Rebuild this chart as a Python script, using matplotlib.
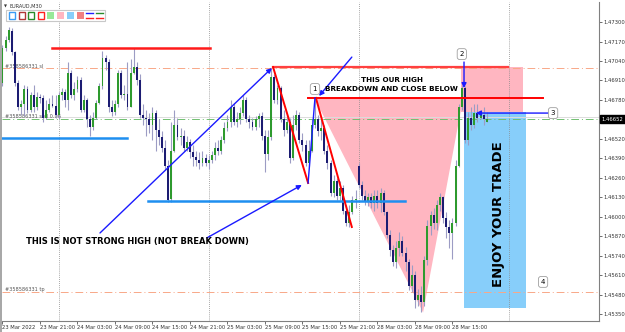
import matplotlib
matplotlib.use('Agg')
import matplotlib.pyplot as plt
from matplotlib.patches import Rectangle, Polygon
import matplotlib.transforms as mtransforms

# EURAUD M30 candles (index 0 = 23 Mar 2022 15:00)
opens = [
    1.4689, 1.4713, 1.4718, 1.4724, 1.4710, 1.4689, 1.4673, 1.4675, 1.4685, 1.4671,
    1.4681, 1.4673, 1.4680, 1.4679, 1.4666, 1.4671, 1.4675, 1.4674, 1.4668, 1.4681,
    1.4683, 1.4678, 1.4696, 1.4681, 1.4685, 1.4691, 1.4671, 1.4678, 1.4665, 1.4660,
    1.4666, 1.4676, 1.4687, 1.4706, 1.4703, 1.4673, 1.4670, 1.4675, 1.4696, 1.4681,
    1.4682, 1.4673, 1.4696, 1.4700, 1.4691, 1.4668, 1.4666, 1.4665, 1.4661, 1.4669,
    1.4658, 1.4653, 1.4646, 1.4634, 1.4612, 1.4644, 1.4661, 1.4653, 1.4654, 1.4646,
    1.4650, 1.4643, 1.4640, 1.4638, 1.4636, 1.4639, 1.4636, 1.4638, 1.4641, 1.4646,
    1.4644, 1.4651, 1.4659, 1.4663, 1.4673, 1.4663, 1.4665, 1.4669, 1.4678, 1.4665,
    1.4663, 1.4660, 1.4665, 1.4667, 1.4654, 1.4642, 1.4653, 1.4693, 1.4678, 1.4686,
    1.4665, 1.4658, 1.4663, 1.4639, 1.4661, 1.4668, 1.4651, 1.4648, 1.4636, 1.4644,
    1.4661, 1.4665, 1.4657, 1.4659, 1.4644, 1.4636, 1.4616, 1.4624, 1.4614, 1.4619,
    1.4604, 1.4596, 1.4603, 1.4611, 1.4634, 1.4621, 1.4614, 1.4610, 1.4613, 1.4609,
    1.4614, 1.4609, 1.4616, 1.4603, 1.4588, 1.4578, 1.4570, 1.4579, 1.4584, 1.4576,
    1.4570, 1.4554, 1.4561, 1.4544, 1.4548, 1.4543, 1.4571, 1.4594, 1.4601, 1.4596,
    1.4608, 1.4613, 1.4599, 1.4593, 1.4589, 1.4596, 1.4634, 1.4673, 1.4686, 1.4651,
    1.4666, 1.4661, 1.4669, 1.4666, 1.4668, 1.4663]
highs = [
    1.4715, 1.4721, 1.4727, 1.4726, 1.4711, 1.4691, 1.4678, 1.4688, 1.4687, 1.4683,
    1.4688, 1.4683, 1.4682, 1.4681, 1.4678, 1.4679, 1.4681, 1.4681, 1.4683, 1.4686,
    1.4685, 1.4703, 1.4698, 1.4690, 1.4694, 1.4693, 1.4681, 1.4679, 1.4668, 1.4670,
    1.4678, 1.4689, 1.4711, 1.4708, 1.4705, 1.4678, 1.4678, 1.4698, 1.4698, 1.4688,
    1.4703, 1.4705, 1.4713, 1.4703, 1.4695, 1.4675, 1.4671, 1.4669, 1.4673, 1.4671,
    1.4665, 1.4657, 1.4651, 1.4638, 1.4663, 1.4671, 1.4666, 1.4659, 1.4658, 1.4654,
    1.4652, 1.4648, 1.4644, 1.4643, 1.4644, 1.4642, 1.4641, 1.4644, 1.4650, 1.4651,
    1.4654, 1.4663, 1.4668, 1.4678, 1.4676, 1.4670, 1.4673, 1.4681, 1.4680, 1.4668,
    1.4666, 1.4667, 1.4669, 1.4670, 1.4658, 1.4658, 1.4699, 1.4695, 1.4688, 1.4687,
    1.4671, 1.4668, 1.4666, 1.4668, 1.4671, 1.4670, 1.4656, 1.4651, 1.4651, 1.4665,
    1.4679, 1.4668, 1.4665, 1.4661, 1.4648, 1.4638, 1.4628, 1.4626, 1.4624, 1.4621,
    1.4608, 1.4608, 1.4614, 1.4618, 1.4636, 1.4624, 1.4618, 1.4616, 1.4616, 1.4618,
    1.4618, 1.4619, 1.4618, 1.4604, 1.4591, 1.4581, 1.4584, 1.4590, 1.4587, 1.4580,
    1.4572, 1.4568, 1.4564, 1.4552, 1.4554, 1.4574, 1.4598, 1.4604, 1.4606, 1.4611,
    1.4616, 1.4614, 1.4603, 1.4598, 1.4599, 1.4638, 1.4675, 1.4688, 1.4687, 1.4670,
    1.4673, 1.4675, 1.4675, 1.4671, 1.4673, 1.4670]
lows = [
    1.4687, 1.4711, 1.4717, 1.4708, 1.4687, 1.4671, 1.4668, 1.4667, 1.4669, 1.4670,
    1.4670, 1.4671, 1.4676, 1.4663, 1.4665, 1.4670, 1.4673, 1.4666, 1.4665, 1.4678,
    1.4673, 1.4671, 1.4679, 1.4678, 1.4683, 1.4670, 1.4670, 1.4660, 1.4654, 1.4658,
    1.4665, 1.4675, 1.4685, 1.4698, 1.4670, 1.4667, 1.4668, 1.4673, 1.4679, 1.4678,
    1.4671, 1.4673, 1.4695, 1.4688, 1.4666, 1.4661, 1.4654, 1.4656, 1.4651, 1.4644,
    1.4648, 1.4643, 1.4631, 1.4610, 1.4610, 1.4643, 1.4651, 1.4648, 1.4644, 1.4644,
    1.4639, 1.4634, 1.4634, 1.4632, 1.4634, 1.4634, 1.4632, 1.4636, 1.4638, 1.4641,
    1.4642, 1.4649, 1.4657, 1.4660, 1.4661, 1.4660, 1.4662, 1.4667, 1.4663, 1.4659,
    1.4658, 1.4658, 1.4660, 1.4651, 1.4630, 1.4638, 1.4651, 1.4676, 1.4675, 1.4663,
    1.4654, 1.4656, 1.4636, 1.4638, 1.4658, 1.4649, 1.4644, 1.4634, 1.4634, 1.4643,
    1.4659, 1.4654, 1.4651, 1.4642, 1.4632, 1.4614, 1.4613, 1.4611, 1.4611, 1.4602,
    1.4594, 1.4593, 1.4602, 1.4606, 1.4619, 1.4611, 1.4608, 1.4607, 1.4606, 1.4604,
    1.4606, 1.4603, 1.4601, 1.4586, 1.4574, 1.4567, 1.4566, 1.4574, 1.4574, 1.4564,
    1.4551, 1.4550, 1.4539, 1.4540, 1.4536, 1.4540, 1.4568, 1.4588, 1.4592, 1.4591,
    1.4604, 1.4596, 1.4586, 1.4579, 1.4572, 1.4594, 1.4633, 1.4671, 1.4649, 1.4648,
    1.4658, 1.4659, 1.4663, 1.4665, 1.4661, 1.4663]
closes = [
    1.4713, 1.4718, 1.4725, 1.4710, 1.4689, 1.4673, 1.4675, 1.4685, 1.4671, 1.4681,
    1.4673, 1.4680, 1.4679, 1.4666, 1.4671, 1.4675, 1.4674, 1.4668, 1.4681, 1.4683,
    1.4678, 1.4696, 1.4681, 1.4685, 1.4691, 1.4671, 1.4678, 1.4665, 1.4660, 1.4666,
    1.4676, 1.4687, 1.4706, 1.4703, 1.4673, 1.4670, 1.4675, 1.4696, 1.4681, 1.4682,
    1.4673, 1.4696, 1.4700, 1.4691, 1.4668, 1.4666, 1.4665, 1.4661, 1.4669, 1.4658,
    1.4653, 1.4646, 1.4634, 1.4611, 1.4644, 1.4661, 1.4653, 1.4654, 1.4646, 1.4650,
    1.4643, 1.4640, 1.4638, 1.4636, 1.4639, 1.4636, 1.4638, 1.4641, 1.4646, 1.4644,
    1.4651, 1.4659, 1.4663, 1.4673, 1.4663, 1.4665, 1.4669, 1.4678, 1.4665, 1.4663,
    1.4660, 1.4665, 1.4667, 1.4654, 1.4642, 1.4653, 1.4693, 1.4678, 1.4686, 1.4665,
    1.4658, 1.4663, 1.4639, 1.4661, 1.4668, 1.4651, 1.4648, 1.4636, 1.4644, 1.4661,
    1.4665, 1.4657, 1.4659, 1.4644, 1.4636, 1.4616, 1.4624, 1.4614, 1.4619, 1.4604,
    1.4596, 1.4603, 1.4611, 1.4612, 1.4621, 1.4614, 1.4610, 1.4613, 1.4609, 1.4614,
    1.4609, 1.4616, 1.4603, 1.4588, 1.4578, 1.4570, 1.4579, 1.4584, 1.4576, 1.4570,
    1.4554, 1.4561, 1.4544, 1.4548, 1.4543, 1.4571, 1.4594, 1.4601, 1.4596, 1.4608,
    1.4613, 1.4599, 1.4593, 1.4589, 1.4596, 1.4634, 1.4673, 1.4686, 1.4651, 1.4666,
    1.4661, 1.4669, 1.4666, 1.4668, 1.4665, 1.46652]

time_ticks = [0, 12, 24, 36, 48, 60, 72, 84, 96, 108, 120, 132, 144]
time_labels = ['23 Mar 2022', '23 Mar 21:00', '24 Mar 03:00', '24 Mar 09:00',
               '24 Mar 15:00', '24 Mar 21:00', '25 Mar 03:00', '25 Mar 09:00',
               '25 Mar 15:00', '25 Mar 21:00', '28 Mar 03:00', '28 Mar 09:00',
               '28 Mar 15:00']
day_breaks = [18, 66, 114, 162]
price_ticks = [1.4730, 1.4717, 1.4704, 1.4691, 1.4678, 1.4652, 1.4639, 1.4626,
               1.4613, 1.4600, 1.4587, 1.4574, 1.4561, 1.4548, 1.4535]
bid = 1.46652
sl_price = 1.4699
tp_price = 1.4550

fig = plt.figure(figsize=(6.25, 3.32), dpi=100)
ax = fig.add_axes([2 / 625, 11 / 332, 597 / 625, 319 / 332])
ax.set_xlim(-0.16, 190.9)
ax.set_ylim(1.45303, 1.47434)

# background objects
ax.add_patch(Polygon([(99.9, 1.4679), (147.4, 1.4679), (134.6, 1.4536)],
                     closed=True, fc='#ffb6c1', ec='none', zorder=1))
ax.add_patch(Rectangle((146.7, 1.4670), 19.9, 0.0030, fc='#ffb6c1', ec='none', zorder=1))
ax.add_patch(Rectangle((147.7, 1.4539), 19.8, 0.0131, fc='#87cefa', ec='none', zorder=1))

for d in day_breaks:
    ax.axvline(d, color='#8a8a8a', lw=0.6, ls=(0, (1, 1.5)), zorder=1)

# order levels
dashdot = (0, (8, 3, 1, 3))
ax.axhline(sl_price, color='#f8a888', lw=0.7, ls=dashdot, zorder=2)
ax.axhline(tp_price, color='#f8a888', lw=0.7, ls=dashdot, zorder=2)
ax.axhline(1.46668, color='#dcdcdc', lw=0.7, zorder=2)
ax.axhline(bid, color='#70c070', lw=0.7, ls=dashdot, zorder=2)
lab = dict(fontsize=3.6, color='#555555', zorder=3)
ax.text(0.8, sl_price + 0.00005, '#358586331 sl', **lab)
ax.text(0.8, bid + 0.00005, '#358586331 sell 0.06', **lab)
ax.text(0.8, tp_price + 0.00005, '#358586331 tp', **lab)

# candles
for i in range(len(opens)):
    o, h, l, c = opens[i], highs[i], lows[i], closes[i]
    col = '#2e9a2e' if c >= o else '#1c1c72'
    ax.vlines(i, l, h, color='#9c9cc4', lw=0.8, zorder=4)
    body = c - o
    if abs(body) < 0.00003:
        body = 0.00003
    ax.bar(i, body, bottom=o, width=0.62, color=col, lw=0, zorder=5)

# horizontal levels
ax.plot([16.0, 66.4], [1.47126, 1.47126], color='#ff1a1a', lw=1.8, zorder=6)
ax.plot([86.6, 161.8], [1.46999, 1.46999], color='#ff4040', lw=1.6, zorder=6)
ax.plot([97.8, 173.0], [1.46793, 1.46793], color='#ff0000', lw=1.4, zorder=6)
ax.plot([-0.5, 39.8], [1.46525, 1.46525], color='#1e8ff0', lw=1.8, zorder=6)
ax.plot([46.6, 128.8], [1.46105, 1.46105], color='#1e8ff0', lw=1.8, zorder=6)

# swing lines
ax.plot([86.6, 97.8], [1.46999, 1.46225], color='#ff0000', lw=1.4, zorder=6)
ax.plot([100.3, 111.8], [1.46793, 1.45931], color='#ff0000', lw=1.4, zorder=6)
ax.plot([97.8, 100.0], [1.46225, 1.46793], color='#1a1aff', lw=1.0, zorder=6)

arrows = [((31.2, 1.45891), (86.2, 1.46993)),
          ((65.4, 1.45858), (95.8, 1.46212)),
          ((111.8, 1.47066), (101.3, 1.46806)),
          ((147.7, 1.47033), (147.7, 1.46859)),
          ((174.9, 1.46692), (151.5, 1.46692))]
for start, end in arrows:
    ax.annotate('', xy=end, xytext=start, zorder=7,
                arrowprops=dict(arrowstyle='-|>', color='#1a1aff', lw=1.0,
                                mutation_scale=7, shrinkA=0, shrinkB=0))

box = dict(boxstyle='round,pad=0.35', fc='white', ec='#a0a0a0', lw=0.6)
for num, bx, by in [('1', 100.0, 1.46853), ('2', 147.0, 1.47086),
                    ('3', 176.2, 1.46692), ('4', 173.0, 1.45564)]:
    ax.text(bx, by, num, fontsize=5, ha='center', va='center', bbox=box, zorder=8)

bold = dict(family='DejaVu Sans', fontweight='bold', color='black', zorder=8)
ax.text(124.6, 1.46913, 'THIS OUR HIGH', fontsize=5.2, ha='center', va='center', **bold)
ax.text(124.6, 1.46853, 'BREAKDOWN AND CLOSE BELOW', fontsize=5.2, ha='center', va='center', **bold)
ax.text(7.5, 1.45831, 'THIS IS NOT STRONG HIGH (NOT BREAK DOWN)', fontsize=6.0,
        ha='left', va='center', **bold)
ax.text(158.6, 1.46018, 'ENJOY YOUR TRADE', fontsize=9.5, rotation=90,
        ha='center', va='center', **bold)

# axes styling
for s in ['left', 'top']:
    ax.spines[s].set_visible(False)
for s in ['right', 'bottom']:
    ax.spines[s].set_color('#808080')
    ax.spines[s].set_linewidth(0.8)
ax.yaxis.tick_right()
ax.set_yticks(price_ticks)
ax.set_yticklabels(['%.5f' % p for p in price_ticks])
ax.set_xticks(time_ticks)
ax.set_xticklabels(time_labels, ha='left')
ax.tick_params(axis='both', labelsize=3.8, colors='#333333', length=2, width=0.5, pad=1.5)
ax.tick_params(axis='x', pad=1.2)

tr = mtransforms.blended_transform_factory(ax.transAxes, ax.transData)
ax.text(1.004, bid, '%.5f' % bid, transform=tr, fontsize=3.8, color='white',
        ha='left', va='center', clip_on=False,
        bbox=dict(boxstyle='square,pad=0.25', fc='black', ec='black'))

# left strip and toolbar
fig.patches.append(Rectangle((0, 0), 2 / 625, 1, transform=fig.transFigure,
                             fc='#a8a8a8', ec='none'))
fig.text(4 / 625, 1 - 6 / 332, '\u25bc', fontsize=2.8, color='#333333', va='center')
fig.text(9 / 625, 1 - 6 / 332, 'EURAUD,M30', fontsize=3.6, color='#333333', va='center')

def px(x, y):
    return x / 625, 1 - y / 332

fig.patches.append(Rectangle(px(6, 21), 99 / 625, 11 / 332, transform=fig.transFigure,
                             fc='white', ec='#c8c8c8', lw=0.8))
icon_x = [11.7, 21.7, 31.0, 40.7, 50.7, 60.7, 70.3, 80.0]
outline = ['#3a9cf5', '#b03838', '#2a8a2a', '#ff2020']
filled = ['#98e898', '#ffb6c1', '#87cefa', '#f08080']
for k, cx in enumerate(icon_x):
    if k < 4:
        fig.patches.append(Rectangle(px(cx - 3.2, 18.9), 6.4 / 625, 6.4 / 332,
                                     transform=fig.transFigure, fc='white',
                                     ec=outline[k], lw=1.0))
    else:
        fig.patches.append(Rectangle(px(cx - 3.5, 19.2), 7 / 625, 7 / 332,
                                     transform=fig.transFigure, fc=filled[k - 4],
                                     ec='none'))
for cx, top in [(89.3, '#2020ff'), (99.0, '#2a8a2a')]:
    for yy, cc in [(13.3, top), (18.3, '#ff2020')]:
        fig.lines.append(plt.Line2D([(cx - 3.5) / 625, (cx + 3.5) / 625],
                                    [1 - yy / 332, 1 - yy / 332],
                                    transform=fig.transFigure, color=cc, lw=1.0))

fig.savefig('out.png', dpi=100)
